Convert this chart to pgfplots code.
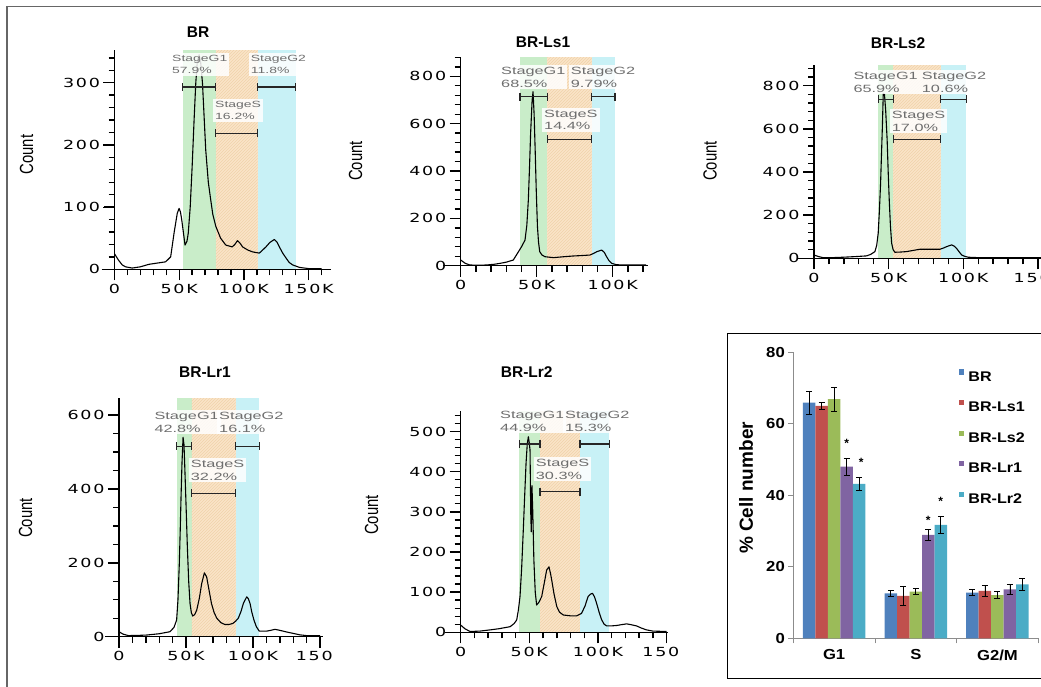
\documentclass[border=0pt]{standalone}
\usepackage{fontspec}
\setmainfont{Liberation Sans}
\newfontfamily\tickfont[FakeStretch=1.4,LetterSpace=14]{DejaVu Sans}
\newfontfamily\condfont[FakeStretch=0.78]{Liberation Sans}
\newfontfamily\gatefont[FakeStretch=1.55]{Liberation Sans}
\newfontfamily\barfont[FakeStretch=1.15]{Liberation Sans}
\usepackage{pgfplots}
\pgfplotsset{compat=1.18}
\usetikzlibrary{patterns}

\definecolor{gOne}{HTML}{C9EDC9}
\definecolor{sPh}{HTML}{FAE4C8}
\definecolor{sHatch}{HTML}{F0D2AA}
\definecolor{gTwo}{HTML}{C8F1F6}
\definecolor{gatetxt}{HTML}{6E6E6E}
\definecolor{cBR}{HTML}{4F81BD}
\definecolor{cLsA}{HTML}{C0504D}
\definecolor{cLsB}{HTML}{9BBB59}
\definecolor{cLrA}{HTML}{8064A2}
\definecolor{cLrB}{HTML}{4BACC6}

\pgfplotsset{
  histo/.style={
    scale only axis, anchor=south west, clip=false, axis on top,
    axis x line=bottom, axis y line=left,
    axis line style={-, black, line width=1.2pt},
    tick align=outside,
    every tick/.style={black, line width=1.2pt},
    major tick length=11pt, minor tick length=6pt,
    xmin=0, ymin=0,
    tick label style={font=\tickfont\fontsize{12.5}{14}\selectfont},
    /pgf/number format/assume math mode=true,
  },
  hcurve/.style={black, line width=1.1pt, line join=round, no marks},
  gate/.style={black!85, line width=1.2pt, mark=|, mark size=4pt,
    mark options={solid, line width=1.2pt}},
}
\tikzset{
  tk/.style={black, line width=1.4pt},
  gatebox/.style={anchor=north west, align=left, fill=white, fill opacity=0.85,
    text opacity=1, text=gatetxt, inner xsep=2pt, inner ysep=2pt},
  ttl/.style={font=\bfseries\fontsize{15.5}{17}\selectfont},
  cnt/.style={rotate=90, font=\condfont\fontsize{19}{20}\selectfont},
}
% tick marks of a histogram panel: origin x, origin y, pt per K, pt per count,
% major x, minor x, major y, minor y
\newcommand{\tks}[8]{%
  \foreach \v in {#5} \draw[tk] ({#1+\v*#3},#2) -- ++(0,-11);
  \foreach \v in {#6} \draw[tk] ({#1+\v*#3},#2) -- ++(0,-6);
  \foreach \v in {#7} \draw[tk] (#1,{#2+\v*#4}) -- ++(-11,0);
  \foreach \v in {#8} \draw[tk] (#1,{#2+\v*#4}) -- ++(-6,0);
}

\begin{document}
\begin{tikzpicture}

% ---------- BR ----------
\begin{axis}[histo, at={(114.5pt,416.7pt)}, width=216.1pt, height=218.9pt,
  xmax=167, ymax=352,
  xtick={0,50,100,150}, xticklabels={0,50K,100K,150K},
  minor xtick={0,10,...,160}, ytick={0,100,200,300}, minor ytick={0,20,...,340}]
\addplot[draw=none, fill=gOne] coordinates {(52.8,0)(52.8,352)(78.3,352)(78.3,0)} -- cycle;
\addplot[draw=none, fill=sPh] coordinates {(78.3,0)(78.3,352)(110.7,352)(110.7,0)} -- cycle;
\addplot[draw=none, pattern=north east lines, pattern color=sHatch] coordinates {(78.3,0)(78.3,352)(110.7,352)(110.7,0)} -- cycle;
\addplot[draw=none, fill=gTwo] coordinates {(110.7,0)(110.7,352)(140,352)(140,0)} -- cycle;
\addplot[black, line width=1.2pt] coordinates {(-10,0)(0,0)};
\addplot[hcurve] coordinates {(0,25)(3,15)(6,7)(8.5,4)(13.7,2)(20,4)(26.6,8)(33,10)(39.5,12)(43.4,20)(46,58)(48.5,90)(49.9,98)(51,92)(52,79)(53.5,55)(54.5,39)(56,45)(57,58)(58.5,100)(60,165)(61.5,240)(62.8,299)(64,335)(65.4,345)(66.5,335)(68,299)(70.5,192)(72.5,140)(74.4,111)(76,88)(78.3,69)(82,50)(86,39)(91,36)(93,40)(95,46)(97,42)(99,36)(103,31)(106.7,28)(111.9,26)(114,30)(117,36)(120,43)(123.5,48)(125.5,44)(127.4,36)(130,26)(132.6,18)(135,11)(137.7,7)(143,3)(150.6,1)(160,1)};
\addplot[gate] coordinates {(52.8,293)(78.3,293)};
\addplot[gate] coordinates {(110.7,293)(140,293)};
\addplot[gate] coordinates {(78.3,219)(110.7,219)};
\end{axis}

% ---------- BR-Ls1 ----------
\begin{axis}[histo, at={(460.7pt,420.3pt)}, width=187.7pt, height=208.3pt,
  xmax=123.5, ymax=880,
  xtick={0,50,100}, xticklabels={0,50K,100K},
  minor xtick={0,10,...,120}, ytick={0,200,...,800}, minor ytick={0,40,...,880}]
\addplot[draw=none, fill=gOne] coordinates {(39,0)(39,880)(57,880)(57,0)} -- cycle;
\addplot[draw=none, fill=sPh] coordinates {(57,0)(57,880)(86.2,880)(86.2,0)} -- cycle;
\addplot[draw=none, pattern=north east lines, pattern color=sHatch] coordinates {(57,0)(57,880)(86.2,880)(86.2,0)} -- cycle;
\addplot[draw=none, fill=gTwo] coordinates {(86.2,0)(86.2,880)(101.5,880)(101.5,0)} -- cycle;
\addplot[black, line width=1.2pt] coordinates {(-11.4,0)(0,0)};
\addplot[hcurve] coordinates {(0,24)(3,10)(6,3)(12,2)(17,3)(22,6)(26,10)(30,15)(34.6,24)(38,59)(40,80)(42.3,108)(43.5,170)(44.5,277)(45.3,420)(46,559)(47,700)(47.6,735)(48.3,640)(49,489)(49.7,320)(50.5,165)(51.2,100)(52,59)(53.5,45)(55.5,38)(61,34)(68,38)(74,41)(80,43)(85,45)(87.5,52)(89.5,59)(92.8,66)(94.5,56)(96,38)(97.5,22)(99.3,10)(102,5)(105,3)(122,3)};
\addplot[gate] coordinates {(39,714)(57,714)};
\addplot[gate] coordinates {(86.2,714)(101.5,714)};
\addplot[gate] coordinates {(57,534)(86.2,534)};
\end{axis}

% ---------- BR-Ls2 ----------
\begin{axis}[histo, at={(814pt,427.7pt)}, width=228.4pt, height=193.1pt,
  xmax=153, ymax=895,
  xtick={0,50,100,150}, xticklabels={0,50K,100K,150\phantom{K}},
  minor xtick={0,10,...,150}, ytick={0,200,...,800}, minor ytick={0,40,...,880}]
\addplot[draw=none, fill=gOne] coordinates {(43,0)(43,895)(53,895)(53,0)} -- cycle;
\addplot[draw=none, fill=sPh] coordinates {(53,0)(53,895)(84.8,895)(84.8,0)} -- cycle;
\addplot[draw=none, pattern=north east lines, pattern color=sHatch] coordinates {(53,0)(53,895)(84.8,895)(84.8,0)} -- cycle;
\addplot[draw=none, fill=gTwo] coordinates {(84.8,0)(84.8,895)(102,895)(102,0)} -- cycle;
\addplot[black, line width=1.2pt] coordinates {(-11.6,0)(0,0)};
\addplot[hcurve] coordinates {(0,15)(3,8)(6,3)(12,3)(19.6,5)(28,8)(35,11)(38,18)(40.8,31)(42,60)(43,116)(43.8,220)(44.6,347)(45.2,480)(45.8,610)(46.4,765)(47.2,760)(48,687)(49,548)(49.7,400)(50.4,270)(51.2,150)(52,70)(53,40)(54.2,28)(58,29)(62,31)(66,36)(71,42)(78,42)(84.4,42)(86.5,47)(88.8,54)(92.2,62)(94,56)(95.5,46)(97.2,30)(99,15)(101,9)(103.3,5)(110,3)(153,3)};
\addplot[gate] coordinates {(43,737)(53,737)};
\addplot[gate] coordinates {(84.8,737)(102,737)};
\addplot[gate] coordinates {(53,551)(84.8,551)};
\end{axis}

% ---------- BR-Lr1 ----------
\begin{axis}[histo, at={(119pt,49.3pt)}, width=203.7pt, height=238.2pt,
  xmax=152, ymax=645,
  xtick={0,50,100,150}, xticklabels={0,50K,100K,150\phantom{K}},
  minor xtick={0,10,...,150}, ytick={0,200,400,600}, minor ytick={0,50,...,600}]
\addplot[draw=none, fill=gOne] coordinates {(43,0)(43,645)(54.2,645)(54.2,0)} -- cycle;
\addplot[draw=none, fill=sPh] coordinates {(54.2,0)(54.2,645)(87,645)(87,0)} -- cycle;
\addplot[draw=none, pattern=north east lines, pattern color=sHatch] coordinates {(54.2,0)(54.2,645)(87,645)(87,0)} -- cycle;
\addplot[draw=none, fill=gTwo] coordinates {(87,0)(87,645)(104.7,645)(104.7,0)} -- cycle;
\addplot[black, line width=1.2pt] coordinates {(-10.4,0)(0,0)};
\addplot[hcurve] coordinates {(0,13.5)(3,7)(7,3)(14,3.5)(20.6,4.5)(30,8)(38,13.5)(41,25)(43,45)(44,100)(45,198)(45.7,290)(46.3,379)(47,470)(47.8,540)(48.5,520)(49,469)(50,360)(51,244)(52,150)(53,90)(54,65)(55,56)(56.5,60)(58,72)(60,105)(61.7,144)(63.7,173)(65.4,162)(67,130)(69,90)(71,65)(73,50)(76,38)(79,33)(82,33)(85,36)(87,42)(89,50)(91,68)(92.8,90)(95.3,108)(96.5,103)(97.8,90)(99,68)(100.7,45)(102.5,27)(104.7,15)(110,15)(113,17)(116.4,20)(119,18)(122.6,15)(126,12)(130,9)(135,5)(140,3)(150,3)};
\addplot[gate] coordinates {(43,516)(54.2,516)};
\addplot[gate] coordinates {(87,516)(104.7,516)};
\addplot[gate] coordinates {(54.2,388)(87,388)};
\end{axis}

% ---------- BR-Lr2 ----------
\begin{axis}[histo, at={(460.7pt,53.7pt)}, width=207.3pt, height=220.9pt,
  xmax=151, ymax=550,
  xtick={0,50,100,150}, xticklabels={0,50K,100K,150\phantom{K}},
  minor xtick={0,10,...,150}, ytick={0,100,...,500}, minor ytick={0,20,...,540}]
\addplot[draw=none, fill=gOne] coordinates {(42.7,0)(42.7,550)(57.8,550)(57.8,0)} -- cycle;
\addplot[draw=none, fill=sPh] coordinates {(57.8,0)(57.8,550)(86.9,550)(86.9,0)} -- cycle;
\addplot[draw=none, pattern=north east lines, pattern color=sHatch] coordinates {(57.8,0)(57.8,550)(86.9,550)(86.9,0)} -- cycle;
\addplot[draw=none, fill=gTwo] coordinates {(86.9,0)(86.9,550)(108.3,550)(108.3,0)} -- cycle;
\addplot[black, line width=1.2pt] coordinates {(-11.4,0)(0,0)};
\addplot[hcurve] coordinates {(0,18)(3,9)(6.8,2)(14,3)(21.4,6)(28,9)(36,14)(39,22)(40.8,31)(42,55)(43.2,89)(44.4,160)(45.6,255)(46.6,340)(47.6,421)(48.5,470)(49.3,487)(50,470)(50.5,454)(51,300)(51.4,250)(51.9,365)(52.5,300)(53.3,180)(54.3,100)(55.3,68)(57,75)(59,89)(61,125)(62.6,155)(64.3,163)(65.5,145)(66.3,130)(68,95)(70,64)(72,50)(74.8,43)(80,41)(84.5,41)(88,47)(90.5,65)(92.8,89)(94.5,95)(96,97)(97.5,88)(99,72)(101,48)(102.7,31)(104.5,20)(106.3,16)(110,16)(113.6,17)(117,19)(120.9,21)(124,19)(128,16)(132,10)(135.4,6)(140,3)(150,2)};
\addplot[gate] coordinates {(42.7,469)(57.8,469)};
\addplot[gate] coordinates {(86.9,469)(108.3,469)};
\addplot[gate] coordinates {(57.8,350)(86.9,350)};
\end{axis}

% ---------- bar chart ----------
\begin{axis}[at={(793.3pt,47.7pt)}, anchor=south west, scale only axis,
  width=245pt, height=286pt,
  xmin=-0.5, xmax=2.5, ymin=0, ymax=80,
  axis x line=bottom, axis y line=left,
  axis line style={-, black!45, line width=0.8pt},
  ybar=0pt, bar width=12.5pt,
  ytick={0,20,40,60,80}, tick align=outside, major tick length=5pt,
  every tick/.style={black!45, line width=0.8pt},
  xtick={-0.5,0.5,1.5,2.5}, xticklabels={},
  extra x ticks={0,1,2}, extra x tick labels={G1,S,G2/M},
  extra x tick style={major tick length=0pt, xticklabel style={yshift=-8pt}},
  tick label style={font=\barfont\bfseries\fontsize{14.5}{16}\selectfont},
  /pgf/number format/assume math mode=true,
  legend style={at={(0.664,0.948)}, anchor=north west, draw=none, fill=none,
    font=\barfont\bfseries\fontsize{14}{16}\selectfont,
    nodes={inner sep=0pt}, column sep=4pt, row sep=17.3pt},
  legend cell align=left,
  legend image code/.code={\fill[#1] (0pt,2.4pt) rectangle (5.3pt,7.7pt);},
  error bars/error bar style={black, line width=0.8pt},
  error bars/error mark options={rotate=90, black, mark size=3pt, line width=0.8pt},
]
\addplot[fill=cBR, draw=none, error bars/.cd, y dir=both, y explicit]
  coordinates {(0,65.9) +- (0,3.3) (1,12.6) +- (0,0.75) (2,12.8) +- (0,0.9)};
\addplot[fill=cLsA, draw=none, error bars/.cd, y dir=both, y explicit]
  coordinates {(0,65.0) +- (0,0.9) (1,11.9) +- (0,2.7) (2,13.3) +- (0,1.6)};
\addplot[fill=cLsB, draw=none, error bars/.cd, y dir=both, y explicit]
  coordinates {(0,66.9) +- (0,3.4) (1,13.05) +- (0,0.9) (2,12.1) +- (0,0.9)};
\addplot[fill=cLrA, draw=none, error bars/.cd, y dir=both, y explicit]
  coordinates {(0,48.0) +- (0,2.3) (1,28.9) +- (0,1.5) (2,13.7) +- (0,1.5)};
\addplot[fill=cLrB, draw=none, error bars/.cd, y dir=both, y explicit]
  coordinates {(0,43.2) +- (0,1.7) (1,31.7) +- (0,2.3) (2,15.1) +- (0,1.7)};
\legend{BR,BR-Ls1,BR-Ls2,BR-Lr1,BR-Lr2}
\node[font=\bfseries\fontsize{12}{12}\selectfont, xshift=12.5pt] at (axis cs:0,54.5) {*};
\node[font=\bfseries\fontsize{12}{12}\selectfont, xshift=27pt] at (axis cs:0,49.1) {*};
\node[font=\bfseries\fontsize{12}{12}\selectfont, xshift=12.5pt] at (axis cs:1,33.1) {*};
\node[font=\bfseries\fontsize{12}{12}\selectfont, xshift=25pt] at (axis cs:1,38.2) {*};
\end{axis}

\begin{scope}[x=1pt,y=1pt]
% ---------- tick marks ----------
\tks{114.5}{416.7}{1.2940}{0.62188}{0,50,100,150}{0,10,...,160}{0,100,200,300}{0,20,...,340}
\tks{460.7}{420.3}{1.51984}{0.236705}{0,50,100}{0,10,...,120}{0,200,400,600,800}{0,40,...,880}
\tks{814}{427.7}{1.49281}{0.215754}{0,50,100,150}{0,10,...,150}{0,200,400,600,800}{0,40,...,880}
\tks{119}{49.3}{1.34013}{0.369302}{0,50,100,150}{0,10,...,150}{0,200,400,600}{0,50,...,600}
\tks{460.7}{53.7}{1.37285}{0.401636}{0,50,100,150}{0,10,...,150}{0,100,200,300,400,500}{0,20,...,540}
\foreach \v in {0,1,2,3,4} \draw[black!45, line width=0.8pt] (793.3,{47.7+\v*71.5}) -- ++(-5,0);
\foreach \v in {0,1,2,3} \draw[black!45, line width=0.8pt] ({793.3+\v*81.667},47.7) -- ++(0,-5);

% ---------- frames ----------
\draw[black!60, line width=1.5pt] (7,-5) -- (7,679.3) -- (1050,679.3);
\draw[black, line width=1.3pt] (1050,352.7) -- (727.3,352.7) -- (727.3,7.7) -- (1050,7.7);

% ---------- titles and y labels ----------
\node[ttl] at (198,653.5) {BR};
\node[ttl] at (543,643.3) {BR-Ls1};
\node[ttl] at (898,642.7) {BR-Ls2};
\node[ttl] at (205,314.3) {BR-Lr1};
\node[ttl] at (526.7,314.3) {BR-Lr2};
\node[cnt] at (26.5,531.5) {Count};
\node[cnt] at (355.5,525) {Count};
\node[cnt] at (710,525) {Count};
\node[cnt] at (25.5,168) {Count};
\node[cnt] at (371.5,171) {Count};
\node[rotate=90, font=\bfseries\fontsize{19}{20}\selectfont] at (746,198) {\% Cell number};

% ---------- gate labels ----------
\begin{scope}[every node/.append style={font=\gatefont\fontsize{9}{12}\selectfont}]
\node[gatebox] at (170,633) {StageG1\\57.9\%};
\node[gatebox] at (248.7,633) {StageG2\\11.8\%};
\node[gatebox] at (213,587) {StageS\\16.2\%};
\end{scope}
\begin{scope}[every node/.append style={font=\gatefont\fontsize{10.5}{12.5}\selectfont}]
\node[gatebox] at (499,621) {StageG1\\68.5\%};
\node[gatebox] at (568.7,621) {StageG2\\9.79\%};
\node[gatebox] at (542,578.5) {StageS\\14.4\%};
\node[gatebox] at (851.3,616) {StageG1\\65.9\%};
\node[gatebox] at (919.7,616) {StageG2\\10.6\%};
\node[gatebox] at (889.7,577) {StageS\\17.0\%};
\node[gatebox] at (152.3,276) {StageG1\\42.8\%};
\node[gatebox] at (217,276) {StageG2\\16.1\%};
\node[gatebox] at (188.7,228) {StageS\\32.2\%};
\node[gatebox] at (498,277) {StageG1\\44.9\%};
\node[gatebox] at (563,277) {StageG2\\15.3\%};
\node[gatebox] at (533.7,229) {StageS\\30.3\%};
\end{scope}
\end{scope}

\pgfresetboundingbox
\useasboundingbox (0pt,0pt) rectangle (1041pt,686pt);
\end{tikzpicture}
\end{document}
